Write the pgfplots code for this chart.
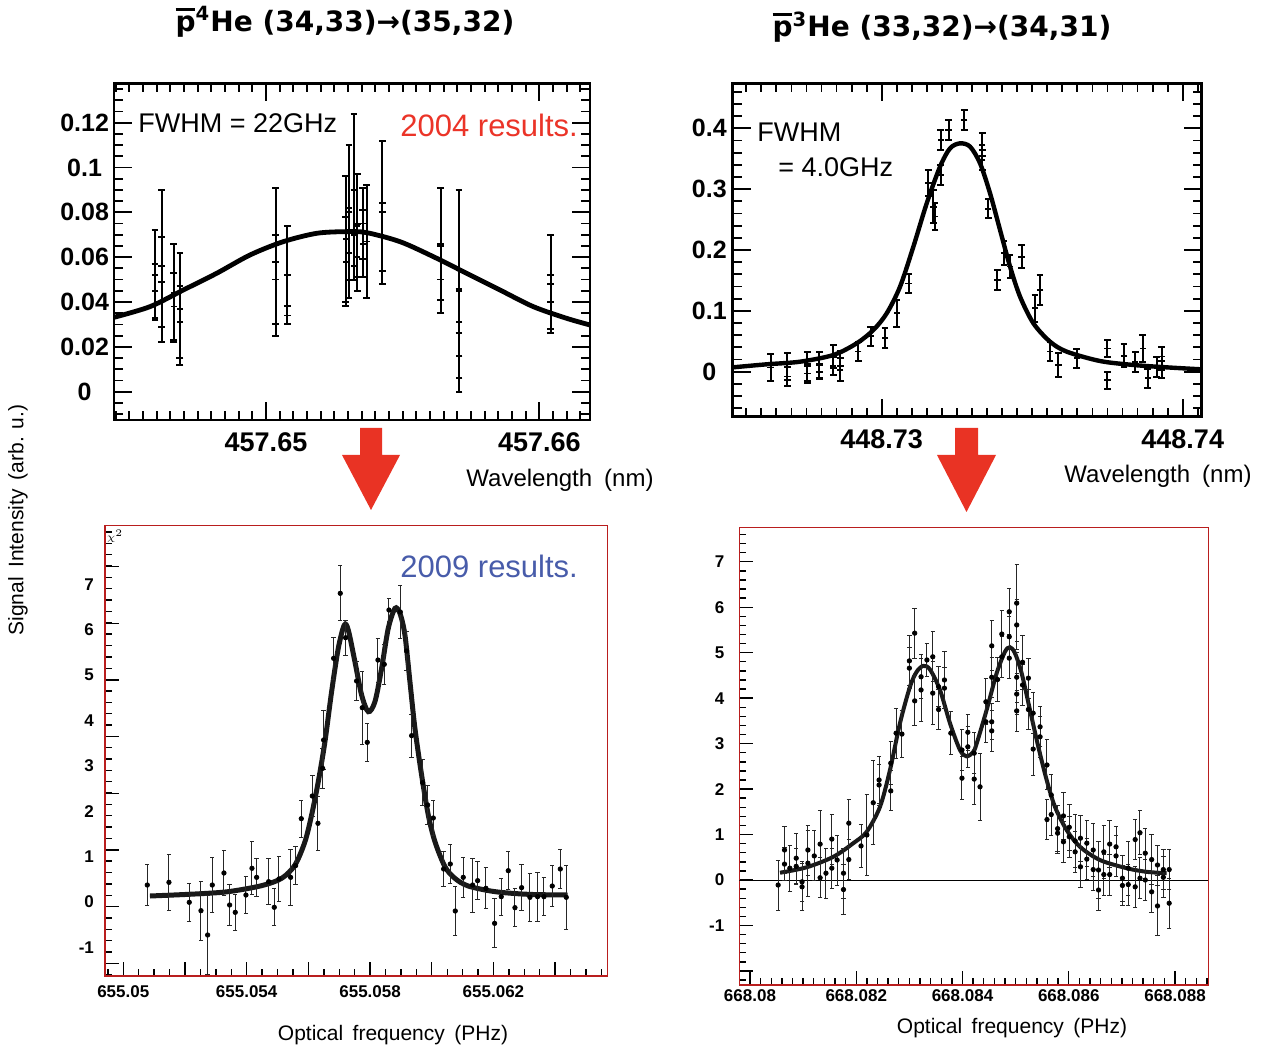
\documentclass[border=0pt]{standalone}
\usepackage{pgfplots}
\pgfplotsset{compat=1.18}
\usepackage{fontspec}
\setmainfont{Liberation Sans}
\newfontfamily\titlefont{DejaVu Sans}
\definecolor{arrowred}{RGB}{233,51,36}
\definecolor{txtred}{RGB}{235,52,40}
\definecolor{txtblue}{RGB}{72,92,170}
\definecolor{framered}{RGB}{185,30,30}
\newcommand\fs[1]{\fontsize{#1}{#1}\selectfont}
\newcommand\pbar{\leavevmode\rlap{\raisebox{0.74em}{\rule{0.68em}{0.085em}}}p}
\pgfplotsset{
  topax/.style={scale only axis, anchor=south west,
    axis line style={line width=1.4pt},
    tick align=inside, tick style={line width=0.9pt, black},
    major tick length=9pt, minor tick length=4.5pt},
  botax/.style={scale only axis, anchor=south west,
    axis line style={framered, line width=0.6pt},
    tick align=inside, tick pos=left, tick style={line width=0.7pt, black},
    major tick length=7pt, minor tick length=3.5pt,
    xticklabel style={font=\bfseries\fs{8.5pt}},
    yticklabel style={font=\bfseries\fs{8.5pt}}},
  toperr/.style={black, only marks, mark=-, mark size=1.6pt, mark options={line width=0.9pt},
    error bars/.cd, y dir=both, y explicit, error bar style={line width=1pt},
    error mark=|, error mark options={mark size=1.7pt, line width=1pt}},
  boterr/.style={black, only marks, mark=*, mark size=1.1pt,
    error bars/.cd, y dir=both, y explicit, error bar style={line width=0.5pt, black!85},
    error mark=|, error mark options={mark size=1.1pt, line width=0.5pt, black!85}},
}
\begin{document}
\begin{tikzpicture}
\useasboundingbox (0,0) rectangle (632.5pt,-526pt);

% ---------------- top left ----------------
\begin{axis}[topax, at={(57pt,-210pt)}, width=238pt, height=168.35pt,
  xmin=-5.561, xmax=11.854, ymin=-0.01264, ymax=0.13755,
  xtick={0,10}, xticklabels={457.65,457.66}, minor xtick={-5.5,-5,...,11.5},
  ytick={0,0.02,0.04,0.06,0.08,0.1,0.12}, yticklabels={0,0.02,0.04,0.06,0.08,0.1,0.12},
  minor ytick={-0.01,-0.005,...,0.136},
  xticklabel style={font=\bfseries\fs{13.5pt}, yshift=-3pt},
  yticklabel style={font=\bfseries\fs{12.5pt}, text width=25pt, align=center, inner sep=1pt, xshift=-1pt}]
\addplot[black, line width=2.4pt, smooth] coordinates {
(-5.561,0.03316) (-4.244,0.03792) (-3.024,0.04535) (-1.805,0.05279) (-0.585,0.06097)
(0.634,0.06692) (1.854,0.07063) (2.951,0.07138) (3.683,0.07093) (4.902,0.06691)
(6.122,0.06022) (7.341,0.05279) (8.561,0.04535) (9.780,0.03792) (11.000,0.03271) (11.854,0.02974)};
\addplot[toperr] table[x index=0, y index=1, y error index=2] {
x y e
-4.06 0.052 0.020
-4.06 0.045 0.012
-3.82 0.056 0.034
-3.82 0.049 0.020
-3.37 0.044 0.022
-3.37 0.038 0.015
-3.15 0.037 0.025
-3.15 0.031 0.016
0.35 0.058 0.033
0.35 0.050 0.020
0.78 0.052 0.022
0.78 0.034 0.004
2.92 0.068 0.028
2.92 0.058 0.020
3.04 0.080 0.030
3.04 0.062 0.020
3.22 0.090 0.034
3.22 0.070 0.020
3.34 0.074 0.023
3.34 0.060 0.015
3.54 0.075 0.016
3.54 0.066 0.015
3.68 0.067 0.025
4.26 0.080 0.032
4.26 0.069 0.015
6.39 0.066 0.025
6.39 0.050 0.015
7.06 0.045 0.045
7.06 0.031 0.015
7.06 0.016 0.010
10.41 0.048 0.022
10.41 0.040 0.012
};
\end{axis}

% ---------------- top right ----------------
\begin{axis}[topax, at={(366.35pt,-208.35pt)}, width=234.5pt, height=166.7pt,
  xmin=-4.95, xmax=10.63, ymin=-0.074, ymax=0.474,
  xtick={0,10}, xticklabels={448.73,448.74}, minor xtick={-4.5,-4,...,10.5},
  ytick={0,0.1,0.2,0.3,0.4}, yticklabels={0,0.1,0.2,0.3,0.4},
  minor ytick={-0.06,-0.04,...,0.47},
  xticklabel style={font=\bfseries\fs{13.5pt}, yshift=-3pt},
  yticklabel style={font=\bfseries\fs{12.5pt}, text width=18pt, align=center, inner sep=1pt, xshift=-1.5pt}]
\addplot[black, line width=2.2pt, smooth] coordinates {
(-4.950,0.0071) (-3.821,0.0121) (-2.713,0.0164) (-1.606,0.0274) (-0.831,0.0466) (-0.277,0.0685)
(0.166,0.0959) (0.609,0.1397) (1.052,0.2055) (1.495,0.2767) (1.938,0.3370) (2.270,0.3671)
(2.602,0.3753) (2.935,0.3699) (3.267,0.3425) (3.599,0.2932) (3.931,0.2329) (4.264,0.1726)
(4.596,0.1233) (5.039,0.0795) (5.592,0.0493) (6.146,0.0329) (7.254,0.0175) (8.361,0.0110)
(9.468,0.0071) (10.631,0.0038)};
\addplot[toperr] table[x index=0, y index=1, y error index=2] {
x y e
-3.69 0.007 0.022
-3.13 0.008 0.022
-3.13 -0.008 0.015
-2.47 0.009 0.024
-2.47 -0.003 0.015
-2.07 0.011 0.022
-2.07 0.000 0.012
-1.61 0.025 0.019
-1.61 0.009 0.015
-1.38 0.003 0.019
-1.38 0.022 0.012
-0.78 0.033 0.016
-0.37 0.058 0.016
0.11 0.055 0.016
0.50 0.096 0.022
0.89 0.145 0.016
1.55 0.310 0.022
1.72 0.271 0.027
1.77 0.255 0.022
1.96 0.381 0.016
1.96 0.323 0.016
2.22 0.397 0.016
2.74 0.414 0.016
3.34 0.373 0.019
3.34 0.348 0.016
3.54 0.268 0.016
3.84 0.151 0.016
4.06 0.195 0.019
4.26 0.173 0.019
4.65 0.189 0.019
5.09 0.104 0.022
5.26 0.134 0.025
5.59 0.033 0.016
5.87 0.011 0.019
6.48 0.022 0.016
7.50 0.038 0.014
7.50 -0.014 0.014
8.05 0.026 0.019
8.42 0.016 0.016
8.67 0.038 0.022
8.84 -0.011 0.016
9.14 0.008 0.016
9.30 0.025 0.016
9.30 0.003 0.014
};
\end{axis}

% ---------------- bottom left ----------------
\begin{axis}[botax, at={(52.5pt,-488pt)}, width=251.15pt, height=225.15pt,
  xmin=-0.593, xmax=15.69, ymin=-1.63, ymax=8.289,
  xtick={0,2,...,14}, xticklabels={655.05,,655.054,,655.058,,655.062,},
  minor xtick={-0.5,0,...,15.5},
  ytick={-1.351,-0.103,1.145,2.393,3.641,4.889,6.137,7.385}, yticklabels={,,,,,,,},
  minor ytick={-1.601,-1.351,...,8.25},
  extra y ticks={-1,0,1,2,3,4,5,6,7}, extra y tick labels={-1,0,1,2,3,4,5,6,7},
  extra y tick style={major tick length=0pt, yticklabel style={xshift=-2pt}},
  xticklabel style={yshift=-1.5pt}]
\addplot[black!90, line width=2.5pt, smooth] coordinates {
(0.864,0.132) (2.323,0.176) (3.404,0.228) (4.484,0.360) (5.132,0.521) (5.565,0.815)
(5.889,1.329) (6.105,1.916) (6.321,2.651) (6.537,3.532) (6.753,4.633) (6.969,5.587)
(7.164,6.101) (7.293,5.991) (7.509,5.294) (7.726,4.559) (7.942,4.192) (8.158,4.413)
(8.374,5.147) (8.590,6.028) (8.806,6.468) (8.968,6.358) (9.130,5.881) (9.292,4.853)
(9.454,3.825) (9.670,2.797) (9.887,1.916) (10.103,1.329) (10.427,0.778) (10.751,0.521)
(11.183,0.352) (12.048,0.228) (13.128,0.169) (14.403,0.154)};
\addplot[boterr] table[x index=0, y index=1, y error index=2] {
x y e
0.778 0.374 0.448
1.480 0.433 0.624
2.139 -0.007 0.415
2.518 -0.191 0.653
2.734 -0.727 0.870
2.885 0.374 0.602
3.263 0.639 0.485
3.447 -0.066 0.455
3.630 -0.228 0.396
3.976 0.154 0.404
4.171 0.742 0.580
4.322 0.543 0.422
4.711 0.448 0.507
4.895 -0.117 0.404
5.046 0.507 0.503
5.424 0.543 0.620
5.586 0.800 0.422
5.770 1.836 0.408
6.127 2.335 0.441
6.310 1.733 0.595
6.462 2.944 0.441
6.494 3.568 0.642
6.818 5.367 0.466
7.034 6.799 0.606
7.207 5.822 0.382
7.563 4.868 0.422
7.747 4.280 0.808
7.909 3.517 0.415
8.255 5.330 0.485
8.460 5.235 0.441
8.612 6.432 0.264
8.979 6.388 0.587
9.185 5.529 0.422
9.347 3.664 0.477
9.703 2.628 0.503
9.865 2.137 0.430
10.049 1.850 0.396
10.384 0.727 0.396
10.600 0.837 0.422
10.762 -0.198 0.529
11.021 0.543 0.441
11.324 0.374 0.595
11.486 0.470 0.422
11.756 0.301 0.448
12.037 -0.470 0.543
12.253 0.117 0.411
12.480 0.690 0.415
12.696 -0.125 0.419
12.912 0.316 0.507
13.182 0.103 0.532
13.431 0.117 0.540
13.636 0.117 0.422
13.906 0.352 0.459
14.166 0.727 0.437
14.360 0.103 0.705
};
\end{axis}

% ---------------- bottom right ----------------
\begin{axis}[botax, at={(369.65pt,-492.5pt)}, width=234.5pt, height=228.65pt,
  xmin=-0.201, xmax=8.626, ymin=-2.309, ymax=7.749,
  xtick={0,2,4,6,8}, xticklabels={668.08,668.082,668.084,668.086,668.088},
  minor xtick={-0.2,0,...,8.6},
  ytick={-2,-1,0,1,2,3,4,5,6,7}, yticklabels={,-1,0,1,2,3,4,5,6,7},
  minor ytick={-2.2,-2,...,7.7},
  xticklabel style={yshift=1pt}, yticklabel style={xshift=-4pt}]
\addplot[black, line width=0.5pt] coordinates {(-0.201,0) (8.626,0)};
\addplot[black!90, line width=2pt, smooth] coordinates {
(0.565,0.16) (1.067,0.28) (1.568,0.51) (1.945,0.81) (2.196,1.06) (2.447,1.61) (2.635,2.42)
(2.823,3.45) (3.011,4.25) (3.137,4.58) (3.262,4.71) (3.388,4.63) (3.576,4.18) (3.764,3.45)
(3.952,2.86) (4.078,2.72) (4.203,2.82) (4.266,3.00) (4.454,3.74) (4.643,4.55) (4.799,5.02)
(4.893,5.12) (4.987,4.99) (5.113,4.55) (5.270,3.74) (5.427,2.93) (5.584,2.20) (5.740,1.61)
(5.960,1.10) (6.211,0.73) (6.587,0.44) (7.089,0.26) (7.465,0.18) (7.841,0.15)};
\addplot[boterr] table[x index=0, y index=1, y error index=2] {
x y e
0.53 -0.11 0.55
0.65 0.66 0.51
0.65 0.35 0.37
0.75 0.26 0.51
0.87 0.48 0.55
0.87 0.30 0.40
0.98 -0.04 0.44
0.98 -0.15 0.51
1.09 0.66 0.55
1.09 0.37 0.73
1.21 0.53 0.55
1.32 0.79 0.73
1.32 0.05 0.44
1.43 0.15 0.55
1.54 0.90 0.55
1.54 0.26 0.44
1.64 0.44 0.55
1.76 0.15 0.55
1.76 -0.21 0.55
1.86 1.25 0.51
1.86 0.45 0.44
2.09 0.75 0.48
2.20 0.99 0.88
2.32 1.70 0.92
2.43 2.20 0.51
2.43 2.09 0.45
2.65 1.96 0.44
2.65 2.57 0.48
2.75 3.23 0.55
2.86 3.21 0.51
3.00 4.82 0.55
3.00 4.66 0.45
3.10 5.43 0.55
3.10 3.94 0.55
3.22 4.47 0.48
3.22 4.18 0.70
3.33 4.84 0.37
3.44 4.91 0.55
3.44 4.11 0.70
3.55 4.25 0.44
3.55 3.75 0.45
3.66 4.40 0.62
3.66 4.22 0.45
3.78 3.23 0.48
3.99 2.24 0.48
3.99 2.86 0.45
4.10 3.25 0.40
4.10 2.93 0.45
4.22 2.22 0.55
4.22 2.79 0.45
4.33 2.05 0.73
4.44 3.92 0.51
4.44 3.48 0.45
4.55 5.15 0.55
4.55 4.46 0.44
4.55 3.48 0.40
4.55 3.28 0.45
4.66 4.41 0.48
4.74 5.41 0.51
4.74 4.91 0.45
4.88 5.90 0.51
4.88 5.35 0.45
4.88 4.88 0.45
5.02 6.09 0.84
5.02 5.61 0.55
5.02 4.46 0.55
5.02 4.09 0.45
5.02 3.72 0.45
5.13 4.79 0.59
5.13 4.29 0.45
5.24 4.44 0.44
5.24 3.75 0.44
5.33 3.67 0.45
5.33 2.88 0.59
5.46 3.37 0.44
5.46 3.15 0.45
5.59 2.53 0.55
5.59 1.33 0.44
5.67 1.87 0.45
5.67 1.44 0.45
5.79 1.13 0.51
5.79 1.03 0.45
5.90 1.41 0.51
5.90 0.84 0.45
6.01 1.16 0.51
6.01 0.95 0.45
6.12 0.86 0.59
6.12 0.62 0.45
6.22 0.92 0.51
6.22 0.29 0.45
6.34 0.81 0.51
6.34 0.46 0.45
6.46 0.66 0.59
6.46 0.23 0.45
6.56 0.22 0.62
6.56 -0.22 0.45
6.66 0.62 0.59
6.66 0.12 0.45
6.77 0.79 0.51
6.77 0.12 0.45
6.89 0.73 0.44
6.89 0.53 0.45
7.01 0.04 0.51
7.01 -0.12 0.45
7.12 0.26 0.59
7.12 -0.10 0.45
7.25 0.89 0.44
7.25 -0.15 0.45
7.34 1.04 0.48
7.34 0.04 0.45
7.44 0.59 0.55
7.44 0.00 0.45
7.56 0.45 0.55
7.56 -0.26 0.45
7.67 0.33 0.44
7.67 -0.57 0.66
7.78 0.23 0.44
7.78 0.06 0.45
7.89 0.23 0.44
7.89 -0.51 0.55
};
\end{axis}

% ---------------- titles and text ----------------
\node[font=\titlefont\bfseries\fs{14pt}] at (172.5pt,-11pt) {\pbar\textsuperscript{4}He (34,33)→(35,32)};
\node[font=\titlefont\bfseries\fs{14pt}] at (471pt,-13.5pt) {\pbar\textsuperscript{3}He (33,32)→(34,31)};

\node[anchor=west, font=\fs{13.5pt}, inner sep=0pt] at (69pt,-61.5pt) {FWHM = 22GHz};
\node[anchor=west, font=\fs{15.5pt}, text=txtred, inner sep=0pt] at (200pt,-62.5pt) {2004 results.};
\node[anchor=west, font=\fs{13.5pt}, inner sep=0pt] at (378.5pt,-66pt) {FWHM};
\node[anchor=west, font=\fs{13.5pt}, inner sep=0pt] at (389pt,-83.5pt) {= 4.0GHz};
\node[anchor=west, font=\fs{15.5pt}, text=txtblue, inner sep=0pt] at (200pt,-283pt) {2009 results.};
\node[font=\fs{5pt}, inner sep=0pt] at (57.5pt,-268pt) {$\chi^2$};

\node[font=\fs{12pt}] at (280pt,-240pt) {Wavelength\hspace{0.5em}(nm)};
\node[font=\fs{12pt}] at (579pt,-238pt) {Wavelength\hspace{0.5em}(nm)};
\node[font=\fs{10.5pt}] at (196.5pt,-517.5pt) {Optical\hspace{0.45em}frequency\hspace{0.45em}(PHz)};
\node[font=\fs{10.5pt}] at (506pt,-514pt) {Optical\hspace{0.45em}frequency\hspace{0.45em}(PHz)};
\node[font=\fs{10.5pt}, rotate=90] at (9pt,-260pt) {Signal\hspace{0.45em}Intensity\hspace{0.45em}(arb. u.)};

% ---------------- arrows ----------------
\fill[arrowred] (180pt,-214pt) -- (191pt,-214pt) -- (191pt,-227.5pt) -- (200pt,-227.5pt)
  -- (185.5pt,-255pt) -- (171pt,-227.5pt) -- (180pt,-227.5pt) -- cycle;
\fill[arrowred] (477.5pt,-214pt) -- (489pt,-214pt) -- (489pt,-227.5pt) -- (498pt,-227.5pt)
  -- (483.25pt,-256pt) -- (468.5pt,-227.5pt) -- (477.5pt,-227.5pt) -- cycle;
\end{tikzpicture}
\end{document}
